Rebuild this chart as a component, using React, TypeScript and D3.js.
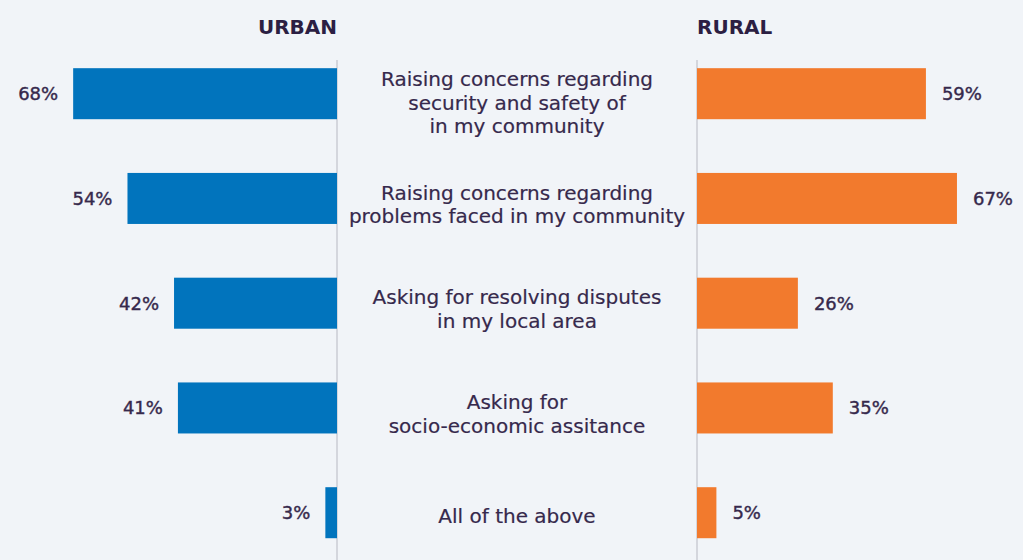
import React from "react";
import * as d3 from "d3";

const categories: string[][] = [
  ["Raising concerns regarding", "security and safety of", "in my community"],
  ["Raising concerns regarding", "problems faced in my community"],
  ["Asking for resolving disputes", "in my local area"],
  ["Asking for", "socio-economic assitance"],
  ["All of the above"],
];
const urbanValues = [68, 54, 42, 41, 3];
const ruralValues = [59, 67, 26, 35, 5];
const seriesNames = ["URBAN", "RURAL"];

const W = 1023;
const H = 560;
const urbanAxisX = 337;
const ruralAxisX = 697;
const textColor = "#36294c";
const headColor = "#2c1f43";
const font = "'DejaVu Sans', sans-serif";

export default function App() {
  const len = d3.scaleLinear().domain([0, 100]).range([0, 388]);
  const y = d3
    .scaleBand<number>()
    .domain(d3.range(categories.length))
    .range([42, 564.4])
    .paddingInner(0.513)
    .paddingOuter(0.25);
  const bh = y.bandwidth();
  const lineH = 23.5;
  return (
    <div style={{ position: "fixed", left: 0, top: 0 }}>
      <svg width={W} height={H} style={{ display: "block", background: "#f1f4f8" }}>
        <line x1={urbanAxisX} x2={urbanAxisX} y1={60} y2={H} stroke="#cacdd4" strokeWidth={1.5} />
        <line x1={ruralAxisX} x2={ruralAxisX} y1={60} y2={H} stroke="#cacdd4" strokeWidth={1.5} />
        <text x={urbanAxisX} y={34} textAnchor="end" fontFamily={font} fontWeight={700} fontSize={20} fill={headColor}>
          {seriesNames[0]}
        </text>
        <text x={ruralAxisX} y={34} textAnchor="start" fontFamily={font} fontWeight={700} fontSize={20} fill={headColor}>
          {seriesNames[1]}
        </text>
        {categories.map((lines, i) => {
          const y0 = y(i)!;
          const cy = y0 + bh / 2;
          const uw = len(urbanValues[i]);
          const rw = len(ruralValues[i]);
          const firstBase = cy - ((lines.length - 1) * lineH) / 2 + 10 + (lines.length - 1) * 3;
          return (
            <g key={i}>
              <rect x={urbanAxisX - uw} y={y0} width={uw} height={bh} fill="#0174bd" />
              <rect x={ruralAxisX} y={y0} width={rw} height={bh} fill="#f27a2d" />
              <text x={urbanAxisX - uw - 15} y={cy} dy="0.36em" textAnchor="end" fontFamily={font} fontSize={18} fill={textColor} stroke={textColor} strokeWidth={0.4}>
                {urbanValues[i]}%
              </text>
              <text x={ruralAxisX + rw + 16} y={cy} dy="0.36em" textAnchor="start" fontFamily={font} fontSize={18} fill={textColor} stroke={textColor} strokeWidth={0.4}>
                {ruralValues[i]}%
              </text>
              {lines.map((l, j) => (
                <text key={j} x={517} y={firstBase + j * lineH} textAnchor="middle" fontFamily={font} fontSize={20} fill={textColor} stroke={textColor} strokeWidth={0.2}>
                  {l}
                </text>
              ))}
            </g>
          );
        })}
      </svg>
    </div>
  );
}
